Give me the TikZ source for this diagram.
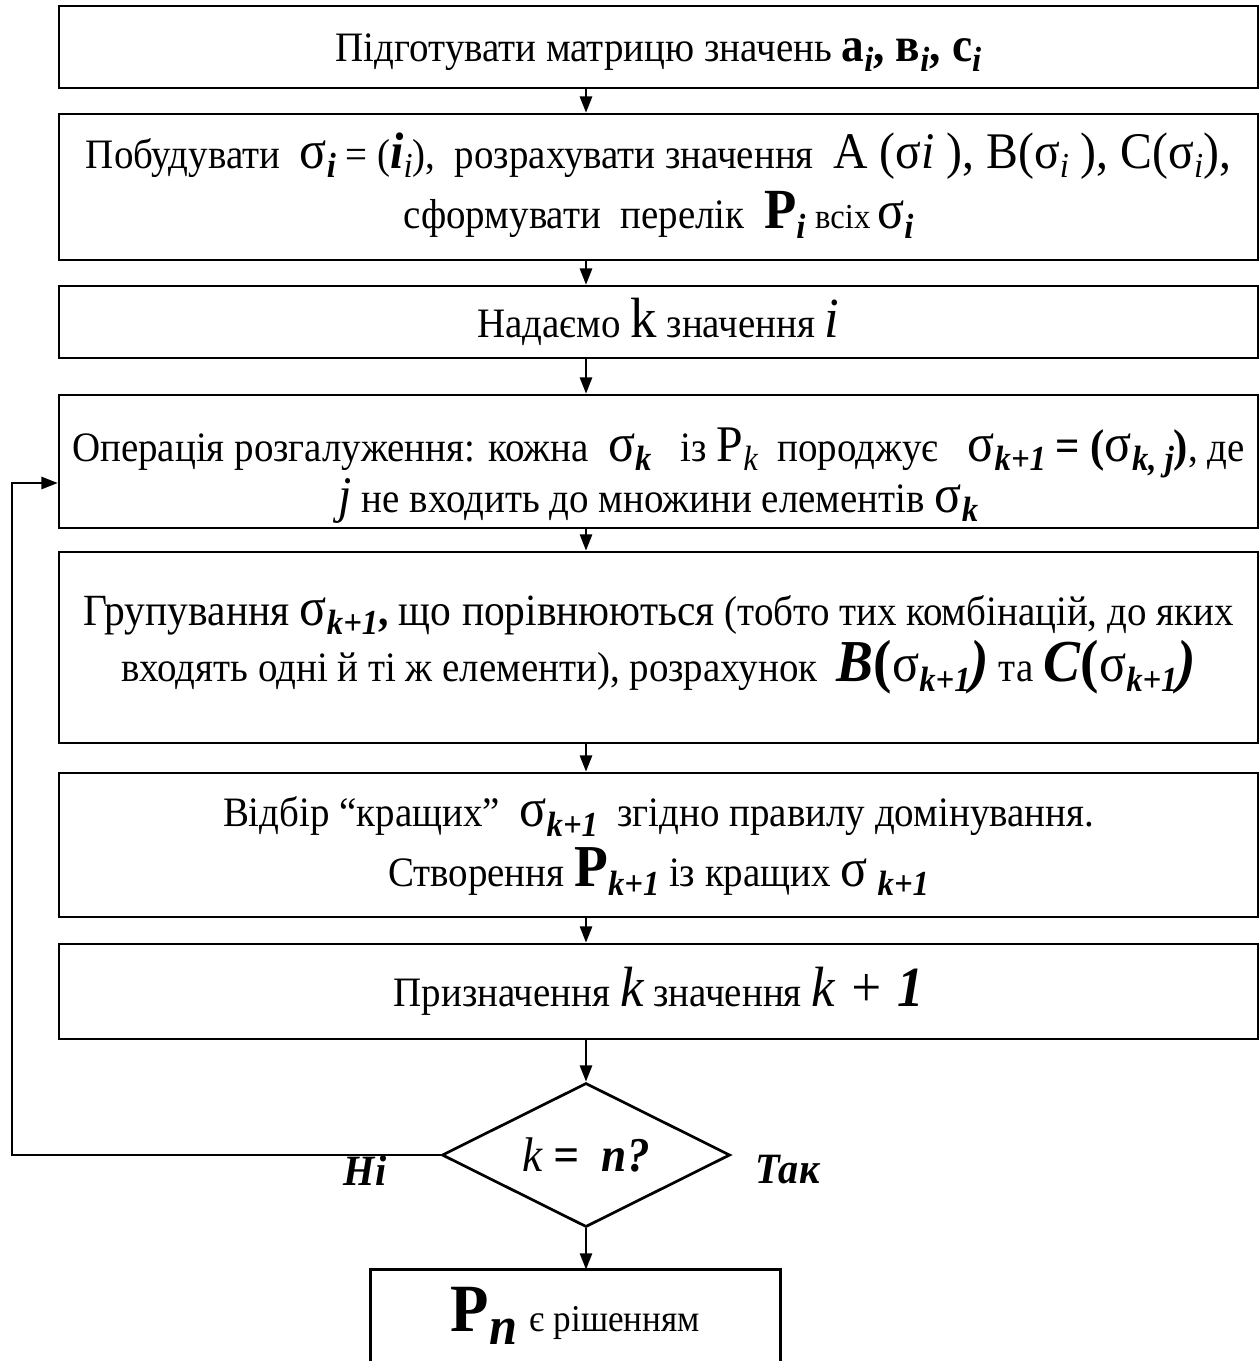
\documentclass[tikz,border=0pt]{standalone}
\usepackage{fontspec}
\setmainfont[FakeStretch=0.93]{Liberation Serif}
\usetikzlibrary{arrows.meta,shapes.geometric}
\newcommand\fs[1]{\fontsize{#1}{#1}\selectfont}
\newcommand\sig{{\fs{20}σ}}
\newcommand\bi[1]{\textbf{\textit{#1}}}
\newcommand\lo[1]{\raisebox{-3.5pt}{\fs{13}#1}}
\newcommand\mvtext[2]{\raisebox{#1}[\height][\depth]{#2}}
\tikzset{
  x=0.37pt, y=-0.37pt,
  box/.style={draw, line width=1pt, rectangle, minimum width=443.6pt, inner sep=2pt,
    align=center, font=\fs{15.5}},
  arr/.style={-{Triangle[length=6pt,width=4.5pt]}, line width=0.8pt},
  lbl/.style={font=\fs{16}, inner sep=0pt}
}
\begin{document}
\begin{tikzpicture}
\useasboundingbox (0,0) rectangle (1260,1361);
\coordinate (ax) at (586,0);
\node[box, minimum height=30.3pt] (B1) at (658.5,47)
  {\mvtext{-2pt}{Підготувати матрицю значень {\fs{18}\bfseries a\lo{\itshape i}, в\lo{\itshape i}, c\lo{\itshape i}}}};
\node[box, minimum height=54pt] (B2) at (658.5,187)
  {\begin{tabular}{@{}c@{}}Побудувати\ \ \sig\lo{\bi{i}} = ({\fs{19}\bi{i}}\lo{\itshape i}),\ \ розрахувати значення\ \ {\fs{19}A (σ\textit{i} ), B(σ\lo{\itshape i} ), C(σ\lo{\itshape i}),}\\[4pt]
  сформувати\ \ перелік\ \ {\fs{21}\bfseries P}\lo{\bi{i}} {\fs{13}всіх}\,\sig\lo{\bi{i}}\end{tabular}};
\node[box, minimum height=26.6pt] (B3) at (658.5,322)
  {Надаємо {\fs{21}k} значення {\fs{21}\itshape i}};
\node[box, minimum height=49.2pt] (B4) at (658.5,461.5)
  {\mvtext{-5.5pt}{\begin{tabular}{@{}c@{}}Операція розгалуження: кожна\ \ \sig\lo{\bi{k}}\ \ \ із {\fs{19}P}\lo{\itshape k}\ \ породжує\ \ \ \sig\lo{\bi{k+1}} {\fs{17}\bfseries = (}\sig\lo{\bi{k, j}}{\fs{17}\bfseries )}, де\\[0pt]
  {\fs{19}\itshape j} не входить до множини елементів \sig\lo{\bi{k}}\end{tabular}}};
\node[box, minimum height=70.7pt] (B5) at (658.5,647.5)
  {\mvtext{1pt}{\begin{tabular}{@{}c@{}}{\fs{16.5}Групування \sig\lo{\bi{k+1}}\textbf{,} що порівнюються} (тобто тих комбінацій, до яких\\[1pt]
  входять одні й ті ж елементи), розрахунок\ \ {\fs{22}\bi{B}\textbf{(}}\sig\lo{\bi{k+1}}{\fs{22}\bi{)}} та {\fs{22}\bi{C}\textbf{(}}\sig\lo{\bi{k+1}}{\fs{22}\bi{)}}\end{tabular}}};
\node[box, minimum height=53.3pt] (B6) at (658.5,845)
  {\mvtext{-1pt}{\begin{tabular}{@{}c@{}}Відбір “кращих”\ \ \sig\lo{\bi{k+1}}\ \ згідно правилу домінування.\\[3pt]
  Створення {\fs{22}\bfseries P}\lo{\bi{k+1}} із кращих \sig\ \lo{\bi{k+1}}\end{tabular}}};
\node[box, minimum height=35.2pt] (B7) at (658.5,991.5)
  {Призначення {\fs{21}\itshape k}\ значення {\fs{21}\itshape k + \textbf{1}}};
\node[draw, line width=1pt, diamond, aspect=2, minimum width=106.6pt, minimum height=53.3pt, inner sep=0pt,
  font=\fs{18}] (D) at (586,1155) {\itshape k \textbf{=}\ \ \bi{n?}};
\node[minimum width=151.3pt, minimum height=34pt, inner sep=0pt] (B8) at (575.5,1316)
  {{\fs{25}\bfseries P}\raisebox{-5pt}{\fs{20}\bi{n}}\ \ {\fs{14}є рішенням}};
\draw[line width=1pt] (B8.south west) -- (B8.north west) -- (B8.north east) -- (B8.south east);
\node[lbl] (no) at (365,1170) {\bi{Ні}};
\node[lbl] (yes) at (788,1170) {\bi{Так}};
\draw[arr] (B1.south -| ax) -- (B2.north -| ax);
\draw[arr] (B2.south -| ax) -- (B3.north -| ax);
\draw[arr] (B3.south -| ax) -- (B4.north -| ax);
\draw[arr] (B4.south -| ax) -- (B5.north -| ax);
\draw[arr] (B5.south -| ax) -- (B6.north -| ax);
\draw[arr] (B6.south -| ax) -- (B7.north -| ax);
\draw[arr] (B7.south -| ax) -- (D.north);
\draw[arr] (D.south) -- (D.south |- B8.north);
\coordinate (lp) at (12,483);
\draw[arr] (D.west) -- (D.west -| lp) -- (lp) -- (lp -| B4.west);
\end{tikzpicture}
\end{document}
